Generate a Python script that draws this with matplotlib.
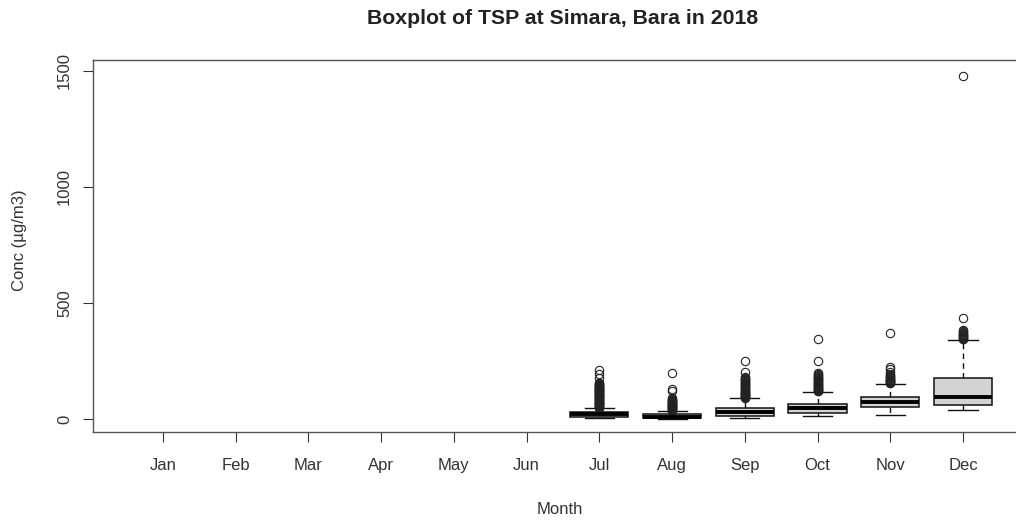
import matplotlib
matplotlib.use("Agg")
import matplotlib.pyplot as plt

plt.rcParams['font.family'] = ['Liberation Sans', 'DejaVu Sans']

months = ["Jan", "Feb", "Mar", "Apr", "May", "Jun", "Jul", "Aug", "Sep", "Oct", "Nov", "Dec"]
# box statistics (months with data only)
data_months = ["Jul", "Aug", "Sep", "Oct", "Nov", "Dec"]
whislo = [3, 2, 4, 13, 17, 39]
q1 = [9, 5, 15, 28, 52, 62]
med = [20, 10, 30, 47, 73, 95]
q3 = [30, 20, 48, 65, 95, 177]
whishi = [47, 34, 90, 118, 152, 340]
fliers_jul = [49, 51, 53, 55, 57, 59, 61, 63, 65, 67, 69, 71, 73, 75, 77, 79, 81,
              83, 85, 87, 89, 91, 93, 95, 97, 99, 101, 103, 105, 107, 109, 111,
              113, 115, 117, 119, 121, 123, 125, 127, 129, 131, 133, 135, 137,
              139, 141, 143, 145, 147, 150, 153, 157, 175, 193, 212]
fliers_aug = [36, 38, 40, 42, 44, 46, 48, 50, 52, 54, 56, 58, 60, 62, 64, 66, 68,
              70, 72, 74, 76, 78, 80, 83, 86, 90, 120, 129, 198]
fliers_sep = [92, 94, 96, 98, 100, 102, 104, 106, 108, 110, 112, 115, 118, 121,
              124, 127, 130, 133, 136, 139, 142, 145, 148, 151, 154, 157, 160,
              163, 166, 169, 172, 176, 181, 203, 250]
fliers_oct = [120, 122, 124, 126, 128, 130, 133, 136, 139, 142, 145, 148, 151,
              154, 157, 160, 163, 166, 169, 172, 175, 178, 181, 185, 189, 194,
              198, 250, 345]
fliers_nov = [154, 156, 158, 160, 162, 164, 166, 168, 170, 173, 176, 179, 182,
              186, 190, 196, 202, 215, 224, 371]
fliers_dec = [343, 346, 349, 352, 355, 358, 361, 364, 368, 372, 376, 380, 384,
              435, 1476]
fliers = [fliers_jul, fliers_aug, fliers_sep, fliers_oct, fliers_nov, fliers_dec]
yticks = [0, 500, 1000, 1500]

fig = plt.figure(figsize=(10.16, 5.2), dpi=100)
W, H = 1016, 520
left, right, top, bottom = 93, 1033, 60, 432
ax = fig.add_axes([left / W, 1 - bottom / H, (right - left) / W, (bottom - top) / H])

stats = []
for i in range(len(data_months)):
    stats.append(dict(med=med[i], q1=q1[i], q3=q3[i], whislo=whislo[i],
                      whishi=whishi[i], fliers=fliers[i]))
positions = [months.index(m) + 1 for m in data_months]

ax.bxp(stats, positions=positions, widths=0.8, patch_artist=True,
       showfliers=True,
       boxprops=dict(facecolor='#D3D3D3', edgecolor='#111111', linewidth=1.1),
       medianprops=dict(color='black', linewidth=2.8),
       whiskerprops=dict(color='#111111', linewidth=1.0, linestyle=(0, (4, 3))),
       capprops=dict(color='#111111', linewidth=1.0),
       capwidths=0.4,
       flierprops=dict(marker='o', markerfacecolor='none', markeredgecolor='#222222',
                       markersize=6, markeredgewidth=0.8))

ax.set_xlim(0.037, 12.963)
ax.set_ylim(-56, 1547)
ax.set_xticks(range(1, 13))
ax.set_xticklabels(months)
ax.set_yticks(yticks)
ax.set_yticklabels([str(v) for v in yticks], rotation=90, va='center')
ax.tick_params(axis='both', direction='out', length=7, width=0.8, colors='#333333',
               labelsize=12, labelcolor='#333333')
ax.tick_params(axis='x', pad=12)
ax.tick_params(axis='y', pad=8)
for s in ['left', 'bottom', 'top']:
    ax.spines[s].set_color('#555555')
    ax.spines[s].set_linewidth(1.0)
ax.spines['right'].set_visible(False)

fig.text(563 / W, 1 - 19 / H, "Boxplot of TSP at Simara, Bara in 2018",
         ha='center', va='center', fontsize=15.3, fontweight='bold', color='#222222')
fig.text(560 / W, 1 - 509 / H, "Month", ha='center', va='center', fontsize=12,
         color='#333333')
fig.text(20 / W, 1 - 240 / H, "Conc (µg/m3)", ha='center', va='center', fontsize=12,
         rotation=90, color='#333333')

fig.savefig("out.png", dpi=100)
